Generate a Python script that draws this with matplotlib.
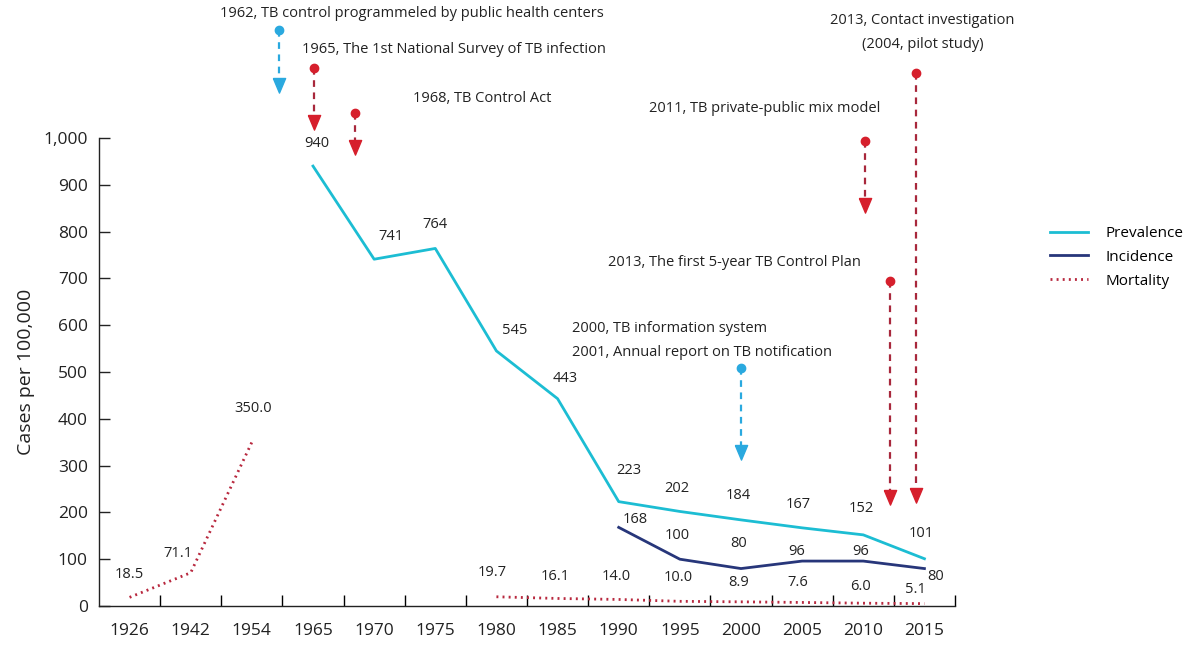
import matplotlib
matplotlib.use("Agg")
import matplotlib.pyplot as plt
import numpy as np

plt.rcParams["font.family"] = ["Open Sans", "DejaVu Sans"]

years = ["1926", "1942", "1954", "1965", "1970", "1975", "1980",
         "1985", "1990", "1995", "2000", "2005", "2010", "2015"]

# values by year (None = no data)
prevalence = [None, None, None, 940, 741, 764, 545, 443, 223, 202, 184, 167, 152, 101]
incidence = [None] * 8 + [168, 100, 80, 96, 96, 80]
mortality = [18.5, 71.1, 350.0, None, None, None, 19.7, 16.1, 14.0, 10.0, 8.9, 7.6, 6.0, 5.1]

# label offsets in pixels (dx, dy) from each point
prev_off = [None, None, None, (4, 23), (17, 23), (0, 24), (18, 20), (8, 20),
            (10, 31), (-3, 23), (-3, 24), (-4, 23), (-2, 26), (-3, 25)]
inc_off = [None] * 8 + [(17, 8), (-3, 24), (-2, 25), (-6, 10), (-3, 10), (11, -8)]
mort_off = [(0, 23), (-13, 19), (1, 34), None, None, None, (-4, 24), (-2, 22),
            (-2, 23), (-2, 24), (-2, 19), (-4, 20), (-3, 17), (-9, 14)]

# events: x (category units), y of dot, y of arrow tip, colour
events_x = [2.45, 3.01, 3.69, 12.03, 12.44, 12.86, 10.0]
events_top = [1231, 1150, 1053, 994, 694, 1139, 509]
events_tip = [1098, 1017, 964, 840, 216, 220, 312]
events_col = ["blue", "red", "red", "red", "red", "red", "blue"]

notes = ["1962, TB control programmeled by public health centers",
         "1965, The 1st National Survey of TB infection",
         "1968, TB Control Act",
         "2011, TB private-public mix model",
         "2013, The first 5-year TB Control Plan",
         "2013, Contact investigation",
         "(2004, pilot study)",
         "2000, TB information system",
         "2001, Annual report on TB notification"]
notes_x = [4.62, 5.31, 5.76, 10.38, 9.89, 12.97, 12.97, 7.23, 7.23]
notes_y = [1265, 1190, 1085, 1062, 733, 1250, 1199, 594, 541]
notes_ha = ["center", "center", "center", "center", "center", "center", "center", "left", "left"]

c_prev = "#1cbdd3"
c_inc = "#27367a"
c_mort = "#b8283e"
c_red_head = "#d61f2c"
c_red_line = "#a8283c"
c_blue = "#2aa9df"

W, H = 1183, 649
fig = plt.figure(figsize=(W / 100, H / 100), dpi=100)
ax_h_px = 468
ax = fig.add_axes([99 / W, 43 / H, 856 / W, ax_h_px / H])

x = np.arange(len(years))


def series(vals):
    return np.array([np.nan if v is None else v for v in vals], dtype=float)


p = series(prevalence)
inc = series(incidence)
m = series(mortality)

ax.plot(x, p, color=c_prev, lw=2.0, label="Prevalence")
ax.plot(x, inc, color=c_inc, lw=2.0, label="Incidence")
ax.plot(x, m, color=c_mort, lw=2.0, ls=(0, (0.7, 1.5)), dash_capstyle="butt", label="Mortality")

lab_fs = 10.5


def put_labels(vals, offs, fmt):
    for i, (v, o) in enumerate(zip(vals, offs)):
        if v is None:
            continue
        ax.annotate(fmt.format(v), (i, v), xytext=(o[0] * 0.72, o[1] * 0.72),
                    textcoords="offset points", ha="center", va="center",
                    fontsize=lab_fs, color="#222222")


put_labels(prevalence, prev_off, "{:d}")
put_labels(incidence, inc_off, "{:d}")
put_labels(mortality, mort_off, "{:.1f}")

# event arrows: dashed shaft, solid triangular head, dot on top
tri = [(-0.42, 0), (0.42, 0), (0, -1), (-0.42, 0)]
head_ms = 21
head_len = head_ms / 2 * 100 / 72 / (ax_h_px / 1000)  # data units
for ex, ytop, ytip, col in zip(events_x, events_top, events_tip, events_col):
    lc = c_blue if col == "blue" else c_red_line
    hc = c_blue if col == "blue" else c_red_head
    base = ytip + head_len
    ax.plot([ex, ex], [ytop, base], color=lc, lw=1.6, ls=(0, (3, 2.5)), clip_on=False)
    ax.plot([ex], [base], marker=tri, ms=head_ms, color=hc, mec=hc, clip_on=False)
    ax.plot([ex], [ytop], marker="o", ms=6, color=hc, clip_on=False)

for t, nx, ny, ha in zip(notes, notes_x, notes_y, notes_ha):
    ax.text(nx, ny, t, ha=ha, va="center", fontsize=10.5, color="#222222", clip_on=False)

ax.set_xlim(-0.5, 13.5)
ax.set_ylim(0, 1000)
ax.set_xticks(x)
ax.set_xticklabels(years)
ax.set_xticks(np.arange(0.5, 14, 1), minor=True)
ax.tick_params(axis="x", which="major", length=0, pad=12, labelsize=12.5, colors="#222222")
ax.tick_params(axis="x", which="minor", length=8, direction="in", width=1)
ax.set_yticks(np.arange(0, 1001, 100))
ax.set_yticklabels([f"{v:,}" for v in range(0, 1001, 100)])
ax.tick_params(axis="y", length=8, direction="in", width=1, pad=8, labelsize=12.5, colors="#222222")
ax.set_ylabel("Cases per 100,000", fontsize=14, color="#222222", labelpad=6)

for s in ["top", "right"]:
    ax.spines[s].set_visible(False)
for s in ["left", "bottom"]:
    ax.spines[s].set_color("#222222")
    ax.spines[s].set_linewidth(1.0)

leg = ax.legend(loc="center left", bbox_to_anchor=(1.095, 0.745), frameon=False,
                fontsize=11, handlelength=2.5, handletextpad=1.1, labelspacing=0.58)

fig.savefig("out.png", dpi=100)
